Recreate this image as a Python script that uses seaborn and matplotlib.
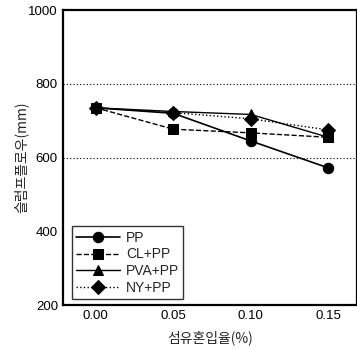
import matplotlib
matplotlib.use("Agg")
import matplotlib.pyplot as plt
import seaborn as sns
import pandas as pd

# Data
fiber_ratio = [0.00, 0.05, 0.10, 0.15]
series_names = ["PP", "CL+PP", "PVA+PP", "NY+PP"]
pp = [735, 720, 645, 572]
cl_pp = [735, 677, 667, 655]
pva_pp = [735, 725, 717, 655]
ny_pp = [735, 722, 705, 675]
x_tick_labels = ["0.00", "0.05", "0.10", "0.15"]
y_ticks = [200, 400, 600, 800, 1000]

sns.set_style("white")
plt.rcParams['font.family'] = ['Liberation Sans', 'Noto Sans CJK KR', 'DejaVu Sans']

rows = []
for name, vals in zip(series_names, [pp, cl_pp, pva_pp, ny_pp]):
    for x, v in zip(fiber_ratio, vals):
        rows.append({"ratio": x, "flow": v, "series": name})
df = pd.DataFrame(rows)

fig = plt.figure(figsize=(3.57, 3.49), dpi=100)
ax = fig.add_axes([0.176, 0.126, 0.824, 0.845])

markers = {"PP": "o", "CL+PP": "s", "PVA+PP": "^", "NY+PP": "D"}
styles = {"PP": "-", "CL+PP": "--", "PVA+PP": "-", "NY+PP": ":"}
widths = {"PP": 1.2, "CL+PP": 1.0, "PVA+PP": 1.0, "NY+PP": 1.0}
msizes = {"PP": 7.5, "CL+PP": 7, "PVA+PP": 7.5, "NY+PP": 7}

for name in series_names:
    sub = df[df["series"] == name]
    sns.lineplot(data=sub, x="ratio", y="flow", ax=ax, color="black",
                 marker=markers[name], markersize=msizes[name],
                 linestyle=styles[name], linewidth=widths[name],
                 markeredgecolor="black", label=name)

ax.set_xlim(-0.0213, 0.1685)
ax.set_ylim(200, 1000)
ax.set_xticks(fiber_ratio)
ax.set_xticklabels(x_tick_labels)
ax.set_yticks(y_ticks)
for yv in [600, 800]:
    ax.axhline(yv, color="black", linestyle=(0, (1, 2)), linewidth=0.8, zorder=0)

ax.tick_params(direction="in", length=4, width=1.2, labelsize=9.5, colors="black")
for sp in ax.spines.values():
    sp.set_linewidth(1.6)
    sp.set_color("black")

ax.set_xlabel("섬유혼입율(%)", fontsize=10, family=['Noto Sans CJK KR', 'DejaVu Sans'], labelpad=6)
ax.set_ylabel("슬럼프플로우(mm)", fontsize=10, family=['Noto Sans CJK KR', 'DejaVu Sans'], labelpad=0)

leg = ax.legend(loc="lower left", bbox_to_anchor=(0.03, 0.02), frameon=True,
                fancybox=False, edgecolor="black", fontsize=10,
                handlelength=3.2, borderpad=0.3, labelspacing=0.2,
                handletextpad=0.4, borderaxespad=0)
leg.get_frame().set_linewidth(1.0)

fig.savefig("out.png", dpi=100)
